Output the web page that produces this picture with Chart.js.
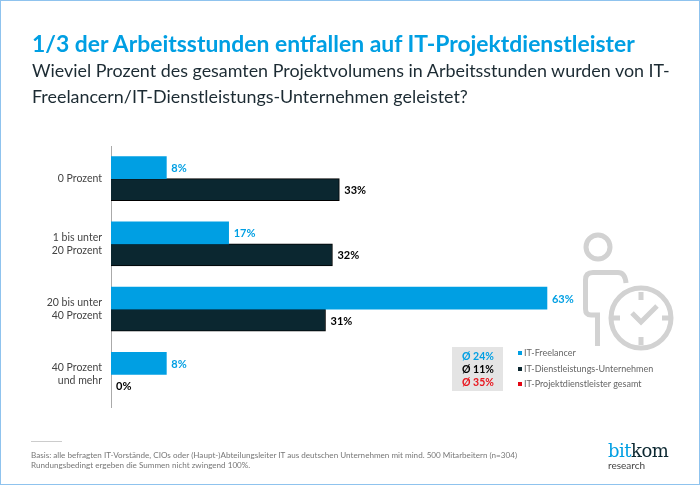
<!DOCTYPE html>
<html lang="de">
<head>
<meta charset="utf-8">
<title>IT-Projektdienstleister</title>
<script src="https://cdn.jsdelivr.net/npm/chart.js@4"></script>
<style>
  html, body { margin: 0; padding: 0; background: #fff; }
  #frame { position: relative; width: 700px; height: 485px; overflow: hidden; font-family: Lato, sans-serif; }
  #frame canvas { position: absolute; left: 0; top: 0; }
  #border { position: absolute; left: 0; top: 0; width: 698px; height: 483px; border: 1px solid #8fc3ee; }
  .txt { position: absolute; white-space: nowrap; }
  #title { left: 32px; top: 29px; font-size: 22.9px; font-weight: 700; color: #009fe3; }
  .sub { left: 32px; font-size: 17.9px; color: #1c2b33; }
  #rule { position: absolute; left: 31px; top: 441px; width: 31px; height: 1px; background: #ccc; }
  .foot { left: 31px; font-size: 8.1px; color: #777; }
  #avg { position: absolute; left: 452px; top: 347px; width: 51px; height: 44px; background: #e4e4e4; }
  .avgrow { left: 462px; font-size: 10.5px; font-weight: 700; }
  .leg { left: 524px; font-size: 9px; color: #666; }
  .sq { position: absolute; left: 518px; width: 4px; height: 4px; }
  #logo { left: 608px; top: 440px; font-family: "DejaVu Serif", serif; font-size: 18px; letter-spacing: -0.5px; color: #0b2730; line-height: 22px; }
  #logo span { color: #009fe3; }
  #logo2 { left: 608px; top: 459px; font-size: 10px; color: #444; }
  #icon { position: absolute; left: 580px; top: 228px; }
</style>
</head>
<body>
<div id="frame">
  <canvas id="chart" width="700" height="485"></canvas>
  <div id="border"></div>
  <div class="txt" id="title">1/3 der Arbeitsstunden entfallen auf IT-Projektdienstleister</div>
  <div class="txt sub" style="top:59px">Wieviel Prozent des gesamten Projektvolumens in Arbeitsstunden wurden von IT-</div>
  <div class="txt sub" style="top:85px">Freelancern/IT-Dienstleistungs-Unternehmen geleistet?</div>

  <svg id="icon" width="100" height="130" viewBox="0 0 100 130" fill="none" stroke="#d2d2d2" stroke-width="5">
    <circle cx="18" cy="19" r="12"/>
    <path d="M17.5 118 V87 H11 Q5.5 87 5.5 81 V52 Q5.5 44.5 13 44.5 H38 Q45 44.5 46 55"/>
    <circle cx="61" cy="90" r="30"/>
    <path d="M61 64 V72 M61 109 V117 M33 90 H40 M82 90 H90"/>
    <path d="M52 85 L61 94 L77 78"/>
  </svg>

  <div id="avg"></div>
  <div id="avgtxt"></div>

  <div id="rule"></div>
  <div class="txt foot" style="top:450px">Basis: alle befragten IT-Vorstände, CIOs oder (Haupt-)Abteilungsleiter IT aus deutschen Unternehmen mit mind. 500 Mitarbeitern (n=304)</div>
  <div class="txt foot" style="top:460px">Rundungsbedingt ergeben die Summen nicht zwingend 100%.</div>
  <div class="txt" id="logo"><span>bit</span>kom</div>
  <div class="txt" id="logo2">research</div>
</div>
<script>
const categories = [['0 Prozent'], ['1 bis unter', '20 Prozent'], ['20 bis unter', '40 Prozent'], ['40 Prozent', 'und mehr']];
const freelancer = [8, 17, 63, 8];
const dienstleister = [33, 32, 31, 0];
const legendNames = ['IT-Freelancer', 'IT-Dienstleistungs-Unternehmen', 'IT-Projektdienstleister gesamt'];
const averages = ['24%', '11%', '35%'];
const colors = ['#009fe3', '#0b2730', '#e30613'];
const avgColors = ['#009fe3', '#000000', '#e8141c'];

// average box + legend on the right
let html = '';
averages.forEach(function (a, i) {
  html += '<div class="txt avgrow" style="top:' + (350 + i * 13) + 'px;color:' + avgColors[i] + '">Ø ' + a + '</div>';
  html += '<div class="sq" style="top:' + (351 + i * 15.5) + 'px;background:' + colors[i] + '"></div>';
  html += '<div class="txt leg" style="top:' + (347 + i * 15.5) + 'px">' + legendNames[i] + '</div>';
});
document.getElementById('avgtxt').innerHTML = html;

// value labels right of the bars
const valueLabels = {
  id: 'valueLabels',
  afterDatasetsDraw(chart) {
    const ctx = chart.ctx;
    ctx.save();
    ctx.font = '700 11px Lato, sans-serif';
    ctx.textBaseline = 'middle';
    chart.data.datasets.forEach(function (ds, i) {
      chart.getDatasetMeta(i).data.forEach(function (bar, j) {
        ctx.fillStyle = i === 0 ? '#009fe3' : '#000';
        ctx.fillText(ds.data[j] + '%', bar.x + 5, bar.y + 1);
      });
    });
    ctx.restore();
  }
};

new Chart(document.getElementById('chart'), {
  type: 'bar',
  data: {
    labels: categories,
    datasets: [
      { label: legendNames[0], data: freelancer, backgroundColor: colors[0], barThickness: 22 },
      { label: legendNames[1], data: dienstleister, backgroundColor: colors[1], borderColor: '#000', borderWidth: 1, barThickness: 22 }
    ]
  },
  options: {
    indexAxis: 'y',
    responsive: false,
    animation: false,
    layout: { padding: { left: 0, right: 35.4, top: 146, bottom: 78 } },
    plugins: { legend: { display: false }, tooltip: { enabled: false } },
    scales: {
      x: { display: false, min: 0, max: 80 },
      y: {
        afterFit(scale) { scale.width = 111; },
        grid: { display: false },
        border: { color: '#aaa' },
        ticks: { color: '#444', padding: 1, font: { family: 'Lato, sans-serif', size: 10.5, lineHeight: 1.25 } }
      }
    }
  },
  plugins: [valueLabels]
});
</script>
</body>
</html>
